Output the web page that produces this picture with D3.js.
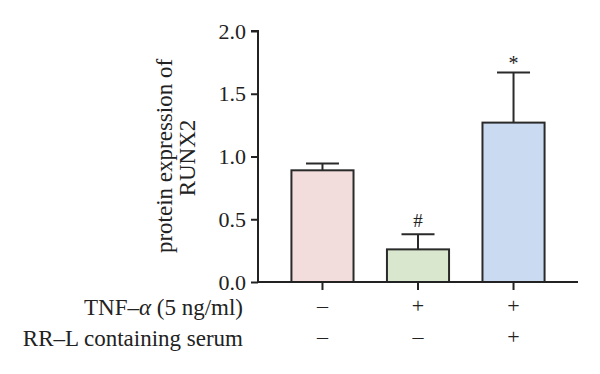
<!DOCTYPE html>
<html>
<head>
<meta charset="utf-8">
<script src="https://cdn.jsdelivr.net/npm/d3@7"></script>
<style>
  body { margin: 0; background: #fff; }
  svg text { font-family: "Liberation Serif", "DejaVu Serif", serif; fill: #222; }
</style>
</head>
<body>
<svg width="600" height="374"></svg>
<script>
var groups = ['g1', 'g2', 'g3'];
var means = [0.89, 0.26, 1.27];
var errTop = [0.945, 0.38, 1.67];
var colors = ['#f2dddc', '#d9e7ce', '#cadaf1'];
var marks = ['', '#', '*'];
var yTicks = [0, 0.5, 1.0, 1.5, 2.0];
var rowLabels = [['TNF\u2013', '\u03b1', ' (5 ng/ml)'], ['RR\u2013L containing serum']];
var rowSigns = [['\u2013', '+', '+'], ['\u2013', '\u2013', '+']];

var svg = d3.select('svg');
var fs = 22, labelFs = 23;
var plotLeft = 258, plotRight = 578, plotTop = 31, plotBottom = 282;

var y = d3.scaleLinear().domain([0, 2]).range([plotBottom, plotTop]);
var x = d3.scaleBand().domain(groups).range([plotLeft, plotRight]).padding(0.35);

var yAxis = svg.append('g')
  .attr('transform', 'translate(' + plotLeft + ',0)')
  .call(d3.axisLeft(y).tickValues(yTicks).tickFormat(d3.format('.1f')).tickSize(7).tickPadding(5));
yAxis.select('.domain').attr('stroke', '#222').attr('stroke-width', 2)
  .attr('d', 'M-7,' + plotTop + 'H0V' + plotBottom);
yAxis.selectAll('.tick line').attr('stroke', '#222').attr('stroke-width', 2);
yAxis.selectAll('.tick text').attr('font-size', fs).attr('fill', '#222')
  .attr('font-family', '"Liberation Serif", serif');

// bars
svg.selectAll('rect.bar')
  .data(groups)
  .enter()
  .append('rect')
  .attr('class', 'bar')
  .attr('x', function(d) { return x(d); })
  .attr('width', x.bandwidth())
  .attr('y', function(d, i) { return y(means[i]); })
  .attr('height', function(d, i) { return plotBottom - y(means[i]); })
  .attr('fill', function(d, i) { return colors[i]; })
  .attr('stroke', '#2a2a2a')
  .attr('stroke-width', 2);

// error bars
var capW = 33;
groups.forEach(function(g, i) {
  var cx = x(g) + x.bandwidth() / 2;
  svg.append('line')
    .attr('x1', cx).attr('x2', cx)
    .attr('y1', y(means[i])).attr('y2', y(errTop[i]))
    .attr('stroke', '#2a2a2a').attr('stroke-width', 2);
  svg.append('line')
    .attr('x1', cx - capW / 2).attr('x2', cx + capW / 2)
    .attr('y1', y(errTop[i])).attr('y2', y(errTop[i]))
    .attr('stroke', '#2a2a2a').attr('stroke-width', 2);
  if (marks[i]) {
    svg.append('text')
      .attr('x', cx)
      .attr('y', y(errTop[i]) - (marks[i] == '*' ? 2 : 7))
      .attr('text-anchor', 'middle')
      .attr('font-size', marks[i] == '*' ? 20 : 19)
      .text(marks[i]);
  }
});

// x axis
var xAxis = svg.append('g')
  .attr('transform', 'translate(0,' + plotBottom + ')')
  .call(d3.axisBottom(x).tickSize(8).tickFormat(''));
xAxis.select('.domain').attr('stroke', '#222').attr('stroke-width', 2)
  .attr('d', 'M' + plotLeft + ',0H' + plotRight);
xAxis.selectAll('.tick line').attr('stroke', '#222').attr('stroke-width', 2);

// condition rows
var rowY = [315, 346];
rowLabels.forEach(function(parts, r) {
  var t = svg.append('text')
    .attr('x', 243)
    .attr('y', rowY[r])
    .attr('text-anchor', 'end')
    .attr('font-size', labelFs);
  parts.forEach(function(p) {
    t.append('tspan')
      .attr('font-style', p == '\u03b1' ? 'italic' : null)
      .text(p);
  });
  groups.forEach(function(g, i) {
    svg.append('text')
      .attr('x', x(g) + x.bandwidth() / 2)
      .attr('y', rowY[r] - 2)
      .attr('text-anchor', 'middle')
      .attr('font-size', fs)
      .text(rowSigns[r][i]);
  });
});

// y label
svg.append('text')
  .attr('transform', 'translate(172,156) rotate(-90)')
  .attr('text-anchor', 'middle')
  .attr('font-size', labelFs)
  .text('protein expression of');
svg.append('text')
  .attr('transform', 'translate(195,158) rotate(-90)')
  .attr('text-anchor', 'middle')
  .attr('font-size', labelFs)
  .text('RUNX2');
</script>
</body>
</html>
